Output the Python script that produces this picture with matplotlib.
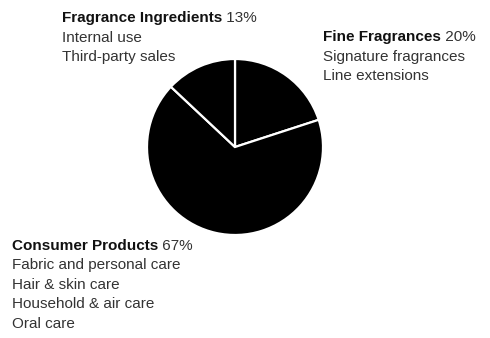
import matplotlib
matplotlib.use("Agg")
import matplotlib.pyplot as plt

# Data
segments = ["Fine Fragrances", "Consumer Products", "Fragrance Ingredients"]
shares = [20, 67, 13]
details = {
    "Fine Fragrances": ["Signature fragrances", "Line extensions"],
    "Consumer Products": ["Fabric and personal care", "Hair & skin care",
                          "Household & air care", "Oral care"],
    "Fragrance Ingredients": ["Internal use", "Third-party sales"],
}

W, H = 490, 338
fig = plt.figure(figsize=(W / 100, H / 100), dpi=100)
ax = fig.add_axes([0, 0, 1, 1])

ax.pie(shares, startangle=90, counterclock=False, colors=["black"] * 3,
       center=(235, H - 147), radius=88, frame=True,
       wedgeprops=dict(edgecolor="white", linewidth=1.6))
ax.set_xlim(0, W)
ax.set_ylim(0, H)
ax.set_aspect("equal")
ax.axis("off")

plt.rcParams["font.family"] = ["Liberation Sans", "DejaVu Sans"]
fs = 11
line_h = 19.5
label_pos = {
    "Fragrance Ingredients": (62, 18),
    "Fine Fragrances": (323, 37),
    "Consumer Products": (12, 246),
}
for name, share in zip(segments, shares):
    x, y = label_pos[name]
    t = ax.text(x, H - y, name, fontsize=fs, fontweight="bold", color="#111111",
                ha="left", va="center")
    ax.annotate(f" {share}%", xy=(1, 0), xycoords=t, fontsize=fs,
                color="#333333", ha="left", va="bottom")
    for i, d in enumerate(details[name]):
        ax.text(x, H - (y + (i + 1) * line_h), d, fontsize=fs, color="#333333",
                ha="left", va="center")

fig.savefig("out.png", dpi=100, facecolor="white")
